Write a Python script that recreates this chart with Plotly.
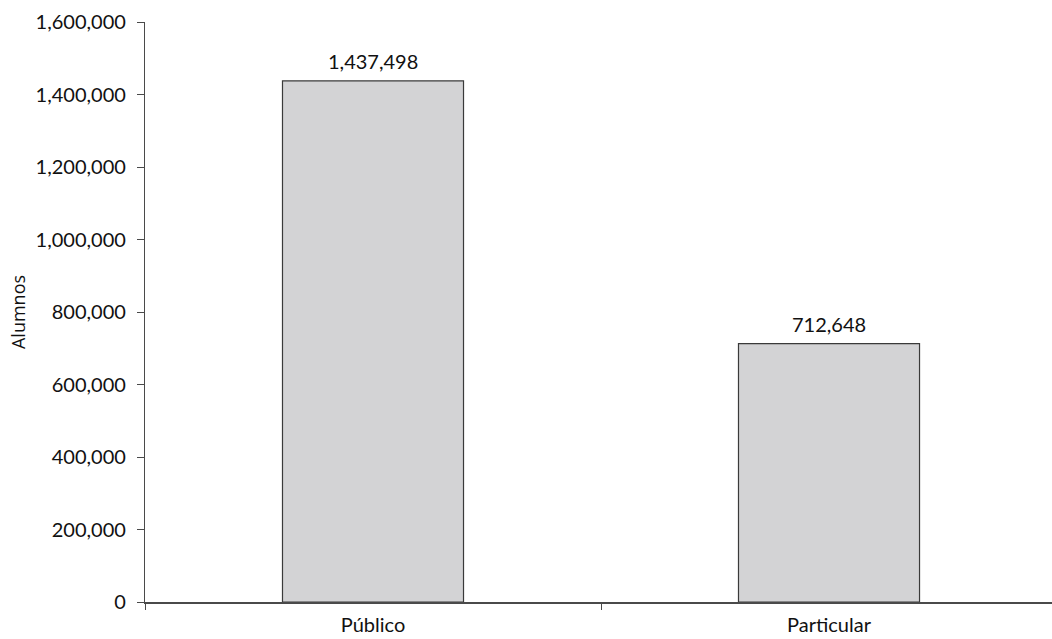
import plotly.graph_objects as go

# Matrícula por tipo de sostenimiento
categorias = ["Público", "Particular"]
alumnos = [1437498, 712648]
y_ticks = [0, 200000, 400000, 600000, 800000, 1000000, 1200000, 1400000, 1600000]
y_tick_text = ["0", "200,000", "400,000", "600,000", "800,000",
               "1,000,000", "1,200,000", "1,400,000", "1,600,000"]

fig = go.Figure(
    go.Bar(
        x=categorias,
        y=alumnos,
        marker=dict(color="#d3d3d5", line=dict(color="#3a3a3a", width=1.2)),
        cliponaxis=False,
    )
)

# Etiquetas de valor sobre cada barra
for cat, val in zip(categorias, alumnos):
    fig.add_annotation(
        x=cat, y=val, text=f"{val:,}", showarrow=False,
        yanchor="bottom", yshift=6,
        font=dict(family="Lato", size=20, color="#111111"),
    )

axis_font = dict(family="Lato", size=20, color="#111111")

fig.update_layout(
    width=1052,
    height=639,
    margin=dict(l=145, r=0, t=22, b=37),
    paper_bgcolor="white",
    plot_bgcolor="white",
    bargap=0.603,
    showlegend=False,
    xaxis=dict(
        range=[-0.5, 1.489],
        showline=True,
        linecolor="#4a4a4a",
        linewidth=1.5,
        ticks="outside",
        tickson="boundaries",
        ticklen=6,
        tickcolor="#4a4a4a",
        tickfont=axis_font,
        ticklabelstandoff=4,
        showgrid=False,
        zeroline=False,
    ),
    yaxis=dict(
        range=[0, 1600000],
        tickvals=y_ticks,
        ticktext=y_tick_text,
        showline=True,
        linecolor="#4a4a4a",
        linewidth=1.2,
        ticks="outside",
        ticklen=7,
        tickcolor="#4a4a4a",
        tickfont=axis_font,
        ticklabelstandoff=7,
        showgrid=False,
        zeroline=False,
        title=dict(text="Alumnos", font=dict(family="Open Sans", size=18, color="#111111"),
                   standoff=5),
    ),
)

fig.write_html("out.html")
